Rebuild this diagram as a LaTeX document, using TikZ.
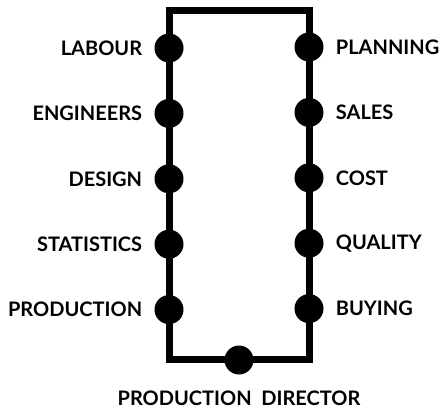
\documentclass[tikz,border=0pt]{standalone}
\usepackage{fontspec}
\setmainfont{Lato}
\usetikzlibrary{positioning}

\begin{document}
\begin{tikzpicture}[x=1pt,y=1pt,node distance=36pt,
    dot/.style={circle,fill=black,minimum size=29pt,inner sep=0pt},
    lbl/.style={font=\fontsize{20}{24}\selectfont\bfseries,inner sep=0pt}]
    \useasboundingbox (0,0) rectangle (444,410);
    % frame corners
    \coordinate (tl) at (169,399);
    \coordinate (tr) at (309,399);
    \coordinate (br) at (309,51);
    \coordinate (bl) at (169,51);
    \draw[line width=7pt] (tl) -- (tr) -- (br) -- (bl) -- cycle;
    % left side
    \node[dot] (labour) at (169,362) {};
    \node[dot,below=of labour] (eng) {};
    \node[dot,below=of eng] (design) {};
    \node[dot,below=of design] (stats) {};
    \node[dot,below=of stats] (prod) {};
    % right side
    \node[dot] (plan) at (309,363) {};
    \node[dot,below=of plan] (sales) {};
    \node[dot,below=of sales] (cost) {};
    \node[dot,below=of cost] (qual) {};
    \node[dot,below=of qual] (buy) {};
    % bottom
    \node[dot] (dir) at (239,50) {};
    \node[lbl,left=12pt of labour] {LABOUR};
    \node[lbl,left=12pt of eng] {ENGINEERS};
    \node[lbl,left=12pt of design] {DESIGN};
    \node[lbl,left=12pt of stats] {STATISTICS};
    \node[lbl,left=12pt of prod] {PRODUCTION};
    \node[lbl,right=12pt of plan] {PLANNING};
    \node[lbl,right=12pt of sales] {SALES};
    \node[lbl,right=12pt of cost] {COST};
    \node[lbl,right=12pt of qual] {QUALITY};
    \node[lbl,right=12pt of buy] {BUYING};
    \node[lbl,below=16pt of dir] (dirlbl) {PRODUCTION\ \ DIRECTOR};
\end{tikzpicture}
\end{document}
